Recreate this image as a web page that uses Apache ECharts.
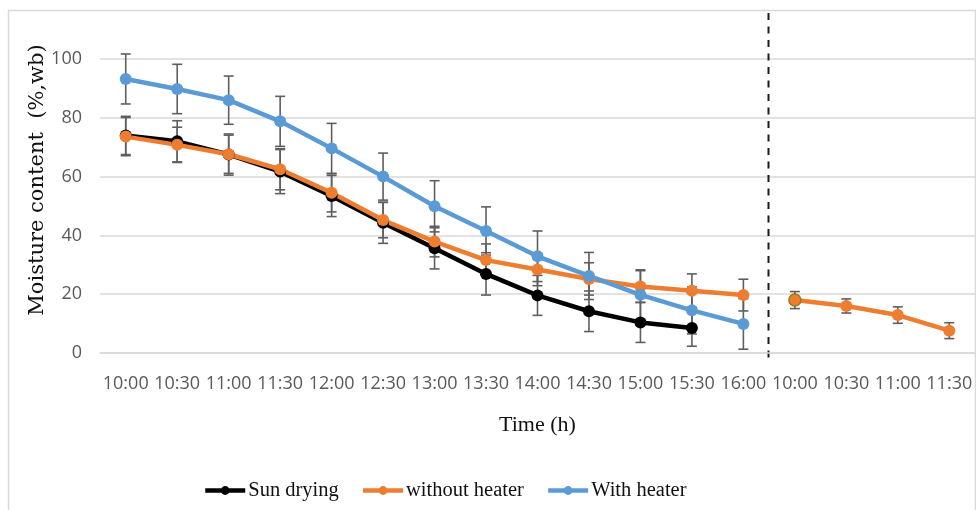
<!DOCTYPE html>
<html>
<head>
<meta charset="utf-8">
<script src="https://cdn.jsdelivr.net/npm/echarts@6/dist/echarts.min.js"></script>
<style>
  html, body { margin: 0; padding: 0; background: #fff; }
  #main { width: 976px; height: 510px; }
</style>
</head>
<body>
<div id="main"></div>
<script>
var myChart = echarts.init(document.getElementById('main'));

// time labels: day 1 (10:00 - 16:00) then day 2 (10:00 - 11:30)
var times = ['10:00', '10:30', '11:00', '11:30', '12:00', '12:30', '13:00', '13:30', '14:00',
             '14:30', '15:00', '15:30', '16:00', '10:00', '10:30', '11:00', '11:30'];

var sunDrying = [74.0, 72.0, 67.5, 61.7, 53.4, 44.3, 35.6, 26.9, 19.6, 14.2, 10.4, 8.5];
var sunDryingErr = [6.5, 7.0, 7.0, 7.5, 7.0, 7.0, 7.0, 7.2, 6.8, 6.9, 6.8, 6.2];

var withoutHeater1 = [73.6, 70.8, 67.6, 62.5, 54.5, 45.2, 37.9, 31.6, 28.4, 25.2, 22.6, 21.2, 19.7];
var withoutHeater1Err = [6.5, 6.0, 6.5, 7.0, 6.5, 6.0, 5.2, 5.5, 5.5, 5.5, 5.4, 5.7, 5.4];
var withoutHeater2 = [18.0, 16.0, 12.9, 7.6];   // second day, starts at index 13
var withoutHeater2Err = [2.9, 2.4, 2.8, 2.7];

var withHeater = [93.2, 89.8, 86.0, 78.8, 69.6, 60.0, 49.9, 41.5, 32.9, 26.2, 19.8, 14.5, 9.9];
var withHeaterErr = [8.5, 8.4, 8.2, 8.5, 8.5, 8.0, 8.7, 8.2, 8.6, 8.0, 8.5, 8.0, 8.6];

var labelFont = '"Open Sans", sans-serif';
var serifFont = '"Liberation Serif", serif';

// pad a series out to the full category length
function place(values, start) {
    var out = [];
    for (var i = 0; i < times.length; i++) {
        var k = i - start;
        out.push(k >= 0 && k < values.length ? values[k] : '-');
    }
    return out;
}

function errData(values, errs, start) {
    return values.map(function (v, i) {
        return [start + i, v - errs[i], v + errs[i]];
    });
}

function renderErr(params, api) {
    var x = api.value(0);
    var top = api.coord([x, api.value(2)]);
    var bot = api.coord([x, api.value(1)]);
    var c = 5;
    var st = { stroke: '#5f5f5f', lineWidth: 1.6 };
    return {
        type: 'group',
        children: [
            { type: 'line', shape: { x1: top[0], y1: top[1], x2: bot[0], y2: bot[1] }, style: st },
            { type: 'line', shape: { x1: top[0] - c, y1: top[1], x2: top[0] + c, y2: top[1] }, style: st },
            { type: 'line', shape: { x1: bot[0] - c, y1: bot[1], x2: bot[0] + c, y2: bot[1] }, style: st }
        ]
    };
}

function errSeries(values, errs, start) {
    return {
        type: 'custom',
        renderItem: renderErr,
        data: errData(values, errs, start),
        encode: { x: 0, y: [1, 2] },
        z: 1,
        silent: true
    };
}

function lineSeries(name, color, data) {
    return {
        name: name,
        type: 'line',
        data: data,
        symbol: 'circle',
        symbolSize: 12,
        z: 3,
        lineStyle: { color: color, width: 4.5 },
        itemStyle: { color: color },
        emphasis: { disabled: true }
    };
}

var day2 = place(withoutHeater2, 13);
day2[13] = { value: withoutHeater2[0], itemStyle: { borderColor: '#9a7a1c', borderWidth: 1.5 } };

var option = {
    backgroundColor: '#fff',
    animation: false,
    grid: { left: 100, right: 1, top: 59, bottom: 157 },
    legend: {
        left: 203,
        top: 480,
        padding: 0,
        itemWidth: 40,
        itemHeight: 11,
        itemGap: 22,
        lineStyle: { width: 4.5 },
        data: ['Sun drying', 'without heater', 'With heater'],
        textStyle: { fontFamily: serifFont, fontSize: 20.5, color: '#111', padding: [0, 0, 0, -2] }
    },
    xAxis: {
        type: 'category',
        data: times,
        name: 'Time (h)',
        nameLocation: 'middle',
        nameGap: 61,
        nameTextStyle: { fontFamily: serifFont, fontSize: 22, color: '#111' },
        axisLine: { lineStyle: { color: '#d9d9d9', width: 1.5 } },
        axisTick: { show: false },
        axisLabel: { interval: 0, margin: 22, color: '#595959', fontFamily: labelFont, fontSize: 18 }
    },
    yAxis: {
        type: 'value',
        min: 0,
        max: 100,
        interval: 20,
        name: 'Moisture content  (%,wb)',
        nameLocation: 'middle',
        nameGap: 52,
        nameMoveOverlap: false,
        nameTextStyle: { fontFamily: '"DejaVu Serif", serif', fontSize: 21, color: '#111', padding: [0, 0, 0, 52] },
        axisLine: { show: false },
        axisTick: { show: false },
        axisLabel: { margin: 18, color: '#595959', fontFamily: labelFont, fontSize: 18 },
        splitLine: { lineStyle: { color: '#d9d9d9', width: 1.5 } }
    },
    series: [
        errSeries(sunDrying, sunDryingErr, 0),
        errSeries(withoutHeater1, withoutHeater1Err, 0),
        errSeries(withoutHeater2, withoutHeater2Err, 13),
        errSeries(withHeater, withHeaterErr, 0),
        lineSeries('Sun drying', '#000000', place(sunDrying, 0)),
        lineSeries('without heater', '#ed7d31', place(withoutHeater1, 0)),
        lineSeries('without heater', '#ed7d31', day2),
        lineSeries('With heater', '#5b9bd5', place(withHeater, 0))
    ]
};

myChart.setOption(option);

// outer frame and the dashed divider between the two days
var xa = myChart.convertToPixel({ xAxisIndex: 0 }, 12);
var xb = myChart.convertToPixel({ xAxisIndex: 0 }, 13);
var divX = Math.round((xa + xb) / 2) - 0.5;
myChart.setOption({
    graphic: [
        {
            type: 'rect',
            shape: { x: 8.5, y: 10.5, width: 967, height: 520 },
            style: { fill: null, stroke: '#d9d9d9', lineWidth: 1.5 },
            silent: true
        },
        {
            type: 'line',
            shape: { x1: divX, y1: 13, x2: divX, y2: 358 },
            style: { stroke: '#1a1a1a', lineWidth: 2, lineDash: [7, 6.5] },
            silent: true
        }
    ]
});
</script>
</body>
</html>
